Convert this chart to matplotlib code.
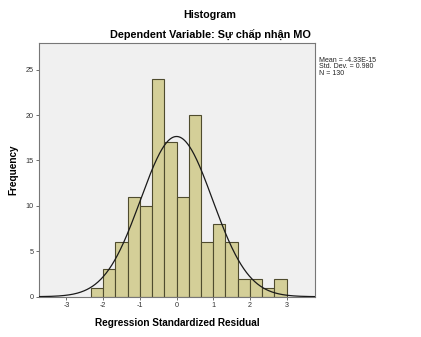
import numpy as np
import matplotlib
matplotlib.use("Agg")
import matplotlib.pyplot as plt

# Data
bin_edges = [-7/3, -2, -5/3, -4/3, -1, -2/3, -1/3, 0, 1/3, 2/3, 1, 4/3, 5/3, 2, 7/3, 8/3, 3]
counts = [1, 3, 6, 11, 10, 24, 17, 11, 20, 6, 8, 6, 2, 2, 1, 2]
mean_val = -4.33e-15
sd_val = 0.980
n_val = 130
x_ticks = [-3, -2, -1, 0, 1, 2, 3]
y_ticks = [0, 5, 10, 15, 20, 25]

plt.rcParams['font.family'] = ['Liberation Sans', 'DejaVu Sans']
plt.rcParams['axes.unicode_minus'] = False

fig = plt.figure(figsize=(4.21, 3.37), dpi=100)
ax = fig.add_axes([0.0934, 0.1196, 0.748 - 0.0934, 0.8715 - 0.1196])
ax.set_facecolor('#f0f0f0')

lefts = np.array(bin_edges[:-1])
widths = np.diff(bin_edges)
ax.bar(lefts, counts, width=widths, align='edge', color='#d4cf98',
       edgecolor='#4f4c2e', linewidth=0.8, zorder=2)

xlim = (-3.74, 3.77)
xs = np.linspace(xlim[0], xlim[1], 400)
bw = bin_edges[1] - bin_edges[0]
ys = n_val * bw / (sd_val * np.sqrt(2 * np.pi)) * np.exp(-0.5 * ((xs - mean_val) / sd_val) ** 2)
ax.plot(xs, ys, color='#1a1a1a', linewidth=0.9, zorder=3)

ax.set_xlim(*xlim)
ax.set_ylim(0, 27.9)
ax.set_xticks(x_ticks)
ax.set_yticks(y_ticks)
ax.tick_params(axis='both', labelsize=5.2, length=2.5, width=0.6, color='#555555',
               labelcolor='#333333', pad=1.5)
for s in ax.spines.values():
    s.set_color('#777777')
    s.set_linewidth(0.8)

ax.set_xlabel('Regression Standardized Residual', fontsize=7.2, fontweight='bold', labelpad=6)
ax.set_ylabel('Frequency', fontsize=7.2, fontweight='bold', labelpad=5.5)

fig.text(210 / 421, 1 - 15 / 337, 'Histogram', ha='center', va='center',
         fontsize=7.7, fontweight='bold')
fig.text(210 / 421, 1 - 35 / 337, 'Dependent Variable: Sự chấp nhận MO', ha='center',
         va='center', fontsize=7.8, fontweight='bold')

fig.text(319 / 421, 1 - 57 / 337,
         'Mean = -4.33E-15\nStd. Dev. = 0.980\nN = 130',
         ha='left', va='top', fontsize=5, linespacing=0.9, color='#222222')

fig.savefig('out.png', dpi=100, facecolor='white')
